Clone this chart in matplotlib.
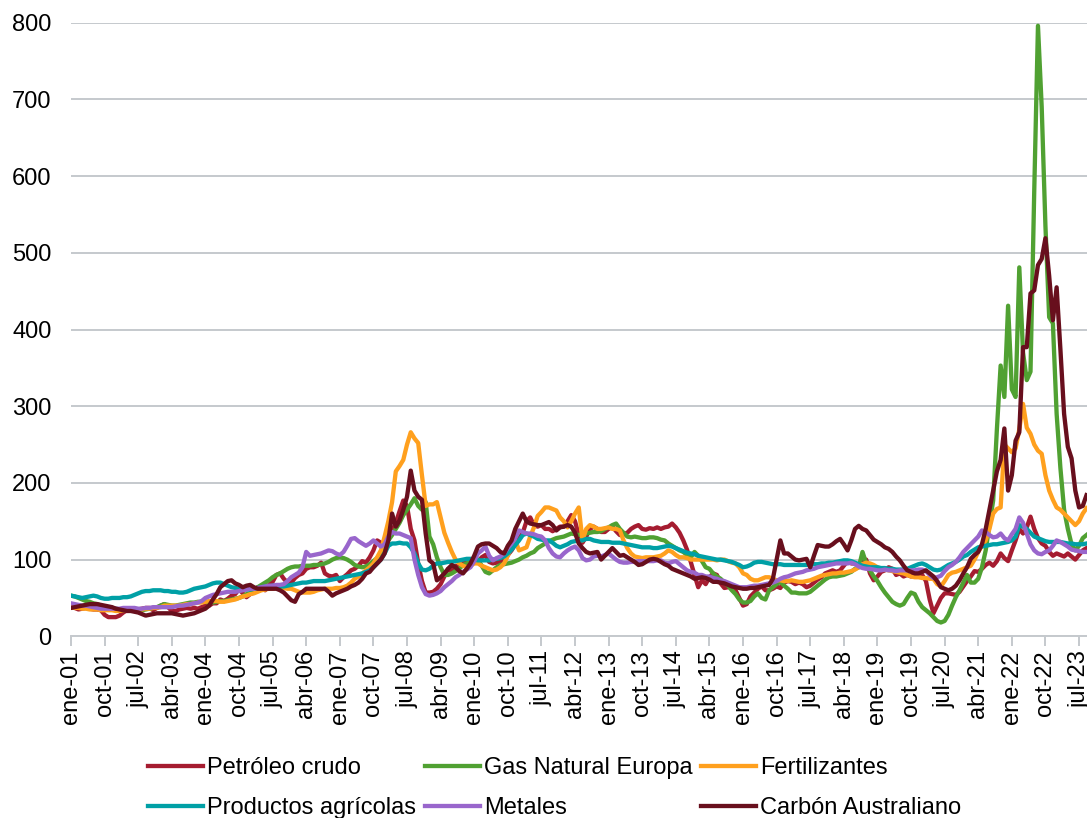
import numpy as np
import matplotlib
matplotlib.use('Agg')
import matplotlib.pyplot as plt

plt.rcParams['font.family'] = ['Liberation Sans', 'DejaVu Sans']

# Monthly index values, ene-01 .. sep-23 (one row per year)
petroleo = [
    38, 37, 35, 36, 37, 36, 35, 35, 34, 28, 25, 25,
    25, 27, 31, 34, 35, 34, 35, 36, 37, 37, 34, 37,
    40, 42, 38, 33, 33, 35, 36, 37, 36, 37, 36, 38,
    40, 40, 43, 43, 48, 46, 49, 53, 55, 62, 56, 51,
    55, 57, 64, 63, 60, 67, 71, 80, 82, 75, 70, 70,
    76, 80, 82, 88, 90, 90, 92, 96, 82, 79, 78, 80,
    72, 77, 81, 86, 88, 92, 98, 96, 103, 112, 125, 122,
    120, 126, 137, 148, 163, 177, 170, 140, 125, 95, 72, 57,
    57, 58, 62, 68, 78, 88, 85, 92, 90, 95, 100, 98,
    100, 97, 103, 106, 97, 95, 96, 97, 99, 106, 112, 120,
    127, 135, 150, 155, 145, 143, 145, 140, 140, 137, 140, 143,
    143, 150, 158, 150, 132, 122, 130, 140, 143, 140, 136, 136,
    140, 143, 137, 132, 133, 135, 140, 143, 145, 140, 139, 141,
    140, 142, 140, 142, 143, 147, 142, 135, 125, 113, 97, 80,
    64, 73, 68, 77, 82, 80, 69, 63, 64, 65, 60, 50,
    40, 42, 52, 57, 62, 65, 60, 60, 62, 65, 63, 70,
    72, 71, 68, 70, 68, 64, 66, 70, 74, 77, 82, 84,
    86, 84, 86, 92, 98, 95, 95, 93, 97, 100, 82, 73,
    78, 84, 86, 90, 88, 80, 82, 78, 80, 78, 80, 82,
    80, 72, 48, 30, 40, 50, 56, 56, 55, 54, 58, 65,
    72, 78, 85, 84, 88, 93, 96, 92, 98, 108, 102, 98,
    112, 125, 140, 134, 142, 156, 140, 128, 121, 118, 110, 105,
    108, 106, 104, 108, 104, 100, 106, 112, 115,
]

gas = [
    53, 52, 50, 48, 46, 45, 43, 42, 40, 38, 37, 37,
    36, 35, 34, 35, 36, 35, 34, 34, 35, 36, 37, 38,
    40, 42, 41, 40, 40, 41, 42, 43, 44, 44, 45, 45,
    45, 44, 44, 45, 46, 46, 47, 48, 49, 50, 52, 55,
    56, 60, 64, 67, 70, 73, 77, 80, 82, 85, 88, 90,
    91, 91, 92, 92, 92, 93, 93, 94, 95, 97, 100, 102,
    103, 102, 100, 97, 93, 91, 90, 91, 94, 98, 102, 108,
    118, 125, 132, 140, 148, 158, 165, 172, 180, 170, 165, 175,
    130, 120, 103, 90, 80, 80, 82, 85, 88, 93, 95, 98,
    98, 100, 92, 84, 82, 86, 90, 93, 94, 95, 96, 98,
    100, 103, 105, 108, 110, 115, 118, 121, 124, 126, 128, 129,
    130, 132, 134, 133, 132, 133, 134, 135, 136, 136, 137, 140,
    142, 145, 147, 140, 135, 130, 129, 130, 129, 128, 128, 129,
    129, 128, 126, 125, 121, 118, 115, 112, 110, 106, 103, 110,
    105, 98, 90, 88, 82, 78, 75, 70, 66, 60, 55, 48,
    44, 44, 46, 52, 56, 50, 48, 60, 64, 68, 71, 66,
    62, 57, 57, 56, 56, 56, 58, 62, 66, 70, 74, 77,
    78, 78, 79, 80, 82, 84, 88, 90, 110, 95, 86, 78,
    72, 64, 57, 51, 45, 42, 40, 42, 50, 57, 55, 45,
    38, 34, 30, 25, 20, 18, 20, 28, 40, 51, 60, 70,
    80, 70, 70, 75, 90, 112, 145, 177, 270, 353, 312, 431,
    322, 312, 481, 370, 334, 345, 580, 796, 690, 535, 416, 408,
    290, 220, 165, 140, 120, 112, 118, 128, 132,
]

fertilizantes = [
    38, 37, 37, 36, 36, 35, 35, 35, 34, 34, 34, 34,
    33, 33, 34, 34, 34, 35, 35, 35, 36, 36, 37, 37,
    38, 40, 40, 40, 40, 40, 41, 42, 42, 43, 44, 44,
    45, 46, 46, 46, 45, 45, 46, 47, 48, 50, 52, 53,
    55, 56, 58, 60, 61, 62, 62, 63, 64, 63, 62, 62,
    60, 58, 57, 57, 57, 58, 60, 61, 62, 62, 62, 63,
    63, 64, 66, 70, 75, 78, 82, 86, 90, 95, 103, 112,
    130, 150, 175, 215, 222, 230, 250, 266, 258, 252, 210, 170,
    172, 172, 175, 155, 135, 122, 110, 100, 95, 92, 90, 92,
    95, 95, 92, 90, 88, 86, 87, 90, 95, 105, 118, 125,
    112, 114, 116, 130, 142, 157, 162, 168, 168, 166, 164, 155,
    150, 142, 150, 160, 168, 125, 140, 145, 143, 140, 140, 141,
    142, 140, 140, 138, 125, 115, 108, 104, 103, 102, 103, 103,
    103, 104, 105, 108, 112, 110, 106, 103, 103, 102, 100, 100,
    100, 100, 100, 100, 100, 99, 100, 100, 98, 96, 95, 90,
    82, 80, 75, 73, 73, 75, 77, 77, 75, 73, 73, 72,
    72, 73, 72, 71, 71, 72, 73, 75, 77, 79, 80, 81,
    82, 82, 83, 83, 84, 85, 87, 90, 94, 96, 95, 93,
    90, 88, 87, 86, 85, 84, 83, 82, 80, 78, 77, 77,
    76, 76, 75, 75, 68, 65, 72, 80, 83, 84, 86, 88,
    90, 92, 100, 110, 118, 125, 140, 160, 166, 168, 250, 245,
    240, 245, 270, 303, 272, 264, 250, 242, 238, 210, 190, 178,
    168, 165, 160, 155, 150, 145, 150, 160, 167,
]

agricolas = [
    53, 52, 51, 50, 51, 52, 53, 52, 50, 49, 49, 50,
    50, 50, 51, 51, 52, 54, 56, 58, 59, 59, 60, 60,
    60, 59, 59, 58, 58, 57, 57, 58, 60, 62, 63, 64,
    65, 67, 69, 70, 70, 68, 66, 64, 63, 62, 62, 61,
    61, 62, 63, 64, 65, 65, 66, 66, 65, 65, 66, 67,
    68, 69, 70, 70, 71, 72, 72, 72, 72, 73, 74, 75,
    76, 77, 78, 79, 80, 81, 82, 84, 86, 90, 95, 100,
    108, 118, 121, 121, 122, 121, 121, 116, 108, 95, 87, 86,
    88, 92, 95, 95, 96, 97, 97, 98, 99, 100, 101, 101,
    100, 99, 99, 99, 99, 100, 101, 102, 104, 108, 113, 119,
    125, 132, 134, 132, 130, 127, 126, 125, 125, 122, 118, 116,
    118, 120, 123, 124, 125, 125, 127, 127, 125, 124, 123, 123,
    123, 122, 122, 122, 121, 120, 119, 118, 117, 116, 116, 116,
    115, 115, 116, 117, 118, 117, 115, 113, 111, 109, 108, 107,
    105, 104, 103, 102, 101, 100, 100, 99, 98, 97, 95, 93,
    90, 91, 93, 96, 97, 97, 96, 95, 94, 94, 94, 93,
    93, 93, 93, 93, 93, 93, 93, 94, 94, 95, 95, 96,
    96, 97, 98, 99, 99, 98, 96, 94, 92, 91, 90, 90,
    90, 89, 89, 88, 88, 87, 87, 87, 88, 90, 92, 94,
    95, 93, 90, 87, 86, 87, 90, 93, 95, 97, 100, 104,
    106, 110, 113, 116, 117, 118, 119, 120, 120, 121, 122, 123,
    125, 130, 145, 143, 140, 135, 130, 128, 126, 124, 123, 123,
    123, 123, 122, 121, 121, 120, 120, 120, 121,
]

metales = [
    43, 42, 41, 40, 40, 39, 38, 37, 36, 36, 36, 36,
    36, 36, 37, 37, 37, 37, 36, 36, 37, 37, 38, 38,
    38, 38, 38, 38, 39, 40, 40, 41, 42, 43, 44, 46,
    50, 52, 54, 55, 56, 57, 58, 58, 58, 59, 60, 61,
    62, 62, 63, 64, 65, 66, 66, 67, 67, 68, 72, 77,
    80, 83, 90, 110, 105, 106, 107, 108, 110, 112, 111, 108,
    106, 110, 118, 127, 128, 124, 121, 118, 121, 125, 121, 117,
    120, 130, 136, 134, 134, 132, 130, 128, 100, 80, 64, 55,
    53, 54, 56, 59, 64, 68, 72, 77, 80, 84, 87, 90,
    98, 108, 112, 117, 105, 99, 102, 104, 108, 115, 121, 128,
    138, 136, 134, 134, 133, 131, 130, 125, 115, 108, 104, 103,
    108, 112, 115, 117, 112, 102, 99, 100, 104, 105, 104, 106,
    108, 104, 100, 97, 96, 96, 97, 97, 98, 98, 98, 98,
    98, 99, 99, 96, 95, 97, 98, 94, 90, 86, 84, 83,
    80, 80, 78, 78, 76, 75, 73, 72, 70, 68, 66, 64,
    64, 64, 65, 66, 66, 67, 68, 69, 70, 72, 75, 77,
    78, 80, 82, 83, 84, 86, 87, 88, 90, 91, 92, 93,
    94, 95, 95, 95, 95, 96, 94, 91, 89, 88, 88, 87,
    86, 86, 87, 86, 86, 85, 86, 86, 86, 86, 86, 87,
    87, 85, 80, 76, 77, 79, 85, 90, 93, 97, 103, 110,
    115, 120, 125, 130, 138, 136, 132, 129, 130, 134, 128, 125,
    133, 140, 155, 148, 134, 120, 112, 108, 107, 110, 112, 118,
    125, 123, 120, 117, 113, 112, 111, 110, 110,
]

carbon = [
    37, 38, 39, 40, 41, 42, 42, 42, 41, 40, 39, 38,
    36, 35, 34, 33, 33, 32, 31, 29, 27, 28, 29, 30,
    30, 30, 30, 30, 29, 28, 27, 28, 29, 30, 32, 34,
    36, 40, 48, 55, 64, 68, 72, 73, 69, 67, 64, 66,
    67, 64, 62, 62, 62, 62, 62, 62, 60, 57, 52, 47,
    45, 55, 58, 62, 62, 62, 62, 62, 62, 58, 53, 56,
    58, 60, 62, 65, 67, 70, 75, 82, 84, 90, 95, 100,
    108, 125, 160, 143, 151, 165, 182, 216, 190, 182, 178, 134,
    99, 95, 73, 77, 82, 88, 93, 90, 85, 82, 88, 95,
    105, 117, 120, 121, 121, 118, 115, 110, 108, 118, 125, 140,
    150, 160, 150, 147, 146, 145, 145, 147, 149, 145, 138, 142,
    143, 145, 143, 135, 121, 115, 110, 108, 109, 110, 100, 105,
    110, 115, 110, 105, 106, 103, 100, 97, 93, 94, 97, 100,
    101, 100, 97, 94, 92, 88, 86, 84, 82, 80, 78, 75,
    76, 77, 76, 74, 71, 71, 70, 69, 67, 65, 64, 63,
    62, 62, 63, 63, 64, 65, 66, 67, 75, 100, 125, 108,
    108, 104, 100, 99, 100, 101, 90, 105, 119, 118, 117, 117,
    120, 124, 127, 120, 112, 125, 140, 144, 140, 138, 132, 126,
    123, 120, 116, 114, 110, 104, 99, 92, 86, 84, 82, 82,
    84, 86, 82, 78, 72, 64, 62, 60, 62, 66, 73, 82,
    90, 101, 106, 110, 120, 140, 165, 190, 215, 230, 271, 190,
    210, 255, 266, 377, 377, 447, 451, 484, 492, 519, 470, 412,
    455, 375, 290, 247, 232, 190, 168, 170, 184,
]

series_names = ['Petróleo crudo', 'Gas Natural Europa', 'Fertilizantes',
                'Productos agrícolas', 'Metales', 'Carbón Australiano']
series_values = [petroleo, gas, fertilizantes, agricolas, metales, carbon]
series_colors = ['#A51C30', '#50A132', '#FFA01E', '#00A0A6', '#9966CC', '#680F1D']

tick_labels = ['ene-01', 'oct-01', 'jul-02', 'abr-03', 'ene-04', 'oct-04', 'jul-05',
               'abr-06', 'ene-07', 'oct-07', 'jul-08', 'abr-09', 'ene-10', 'oct-10',
               'jul-11', 'abr-12', 'ene-13', 'oct-13', 'jul-14', 'abr-15', 'ene-16',
               'oct-16', 'jul-17', 'abr-18', 'ene-19', 'oct-19', 'jul-20', 'abr-21',
               'ene-22', 'oct-22', 'jul-23']

fig = plt.figure(figsize=(10.87, 8.18), dpi=100)
ax = fig.add_axes([71 / 1087, 1 - 636.3 / 818, (1086.5 - 71) / 1087, (636.3 - 22.7) / 818])

lines = []
for name, vals, col in zip(series_names, series_values, series_colors):
    assert len(vals) == 273, (name, len(vals))
    ln, = ax.plot(np.arange(len(vals)), vals, color=col, lw=3.1, label=name,
                  solid_joinstyle='round')
    lines.append(ln)

ax.set_xlim(0, 272)
ax.set_ylim(0, 800)
ax.set_yticks(range(0, 801, 100))
ax.set_xticks(range(0, 271, 9))
ax.set_xticklabels(tick_labels)

ax.yaxis.grid(True, color='#C5C9CD', lw=1.4)
ax.set_axisbelow(True)
for s in ['top', 'right', 'left']:
    ax.spines[s].set_visible(False)
ax.spines['bottom'].set_color('#C5C9CD')
ax.spines['bottom'].set_linewidth(1.4)

ax.tick_params(axis='y', length=0, pad=14, labelsize=17)
ax.tick_params(axis='x', length=7, width=1.4, color='#C5C9CD', pad=3,
               labelsize=17, labelrotation=90)

# matplotlib fills legend columns first, so reorder to get row-wise entries
order = [0, 3, 1, 4, 2, 5]
fig.legend([lines[i] for i in order], [series_names[i] for i in order],
           loc='upper left', bbox_to_anchor=(148 / 1087, 1 - 757 / 818),
           ncol=3, frameon=False, fontsize=17, handlelength=2.33,
           handletextpad=0.17, columnspacing=0.37, labelspacing=0.77,
           borderpad=0, borderaxespad=0)

fig.savefig('out.png', dpi=100)
